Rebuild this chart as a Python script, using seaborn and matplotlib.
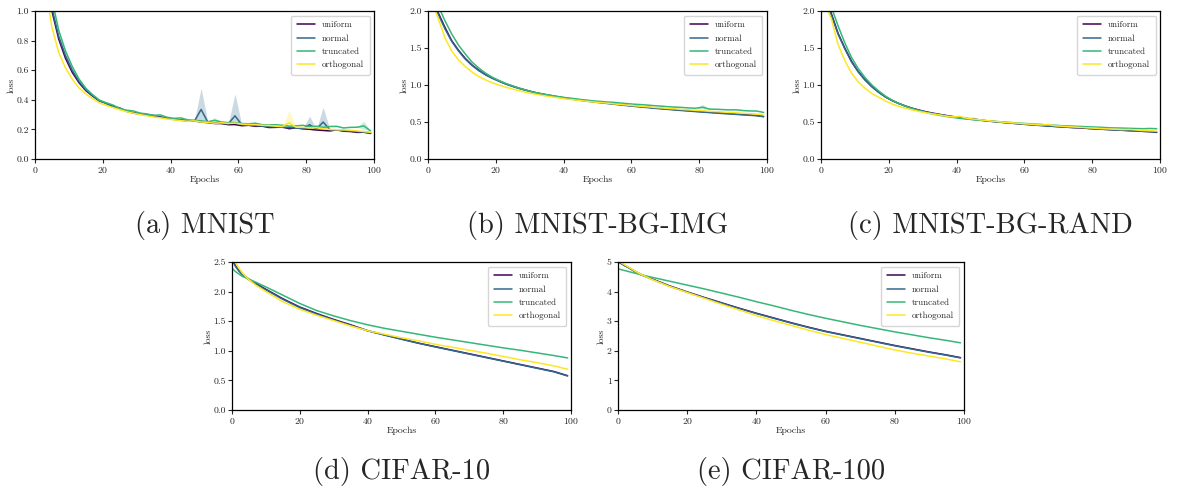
import numpy as np
import pandas as pd
import matplotlib.pyplot as plt
import seaborn as sns

INITS = ['uniform', 'normal', 'truncated', 'orthogonal']
PALETTE = dict(zip(INITS, ['#440154', '#31688e', '#35b779', '#fde725']))

# top row: epoch 0 then every odd epoch up to 99
EPOCHS_TOP = [0] + list(range(1, 100, 2))
# bottom row (smooth curves)
EPOCHS_BOT = [0, 1, 2, 3, 5, 7, 10, 15, 20, 25, 30, 35, 40, 45, 50, 55, 60, 65, 70, 75, 80, 85, 90, 95, 99]

# (a) MNIST
mnist_uniform = [2.30, 1.95, 1.32, 1.00, 0.81, 0.68, 0.585, 0.515, 0.462, 0.425, 0.392,
                 0.378, 0.355, 0.345, 0.322, 0.313, 0.308, 0.296, 0.295, 0.284, 0.276,
                 0.270, 0.262, 0.258, 0.257, 0.250, 0.246, 0.240, 0.240, 0.232, 0.233,
                 0.225, 0.228, 0.221, 0.222, 0.213, 0.214, 0.216, 0.205, 0.211, 0.204,
                 0.201, 0.196, 0.193, 0.190, 0.197, 0.188, 0.186, 0.180, 0.181, 0.173]
mnist_normal = [2.35, 2.00, 1.36, 1.02, 0.83, 0.70, 0.60, 0.525, 0.468, 0.428, 0.394,
                0.375, 0.352, 0.340, 0.325, 0.310, 0.303, 0.298, 0.290, 0.282, 0.278,
                0.268, 0.265, 0.260, 0.255, 0.335, 0.248, 0.244, 0.241, 0.238, 0.292,
                0.231, 0.229, 0.226, 0.223, 0.219, 0.218, 0.214, 0.213, 0.210, 0.206,
                0.232, 0.202, 0.250, 0.198, 0.195, 0.193, 0.188, 0.185, 0.182, 0.178]
mnist_truncated = [2.45, 2.10, 1.45, 1.08, 0.87, 0.73, 0.625, 0.54, 0.478, 0.435, 0.398,
                   0.380, 0.365, 0.342, 0.330, 0.325, 0.310, 0.305, 0.295, 0.298, 0.282,
                   0.275, 0.278, 0.265, 0.262, 0.258, 0.252, 0.262, 0.250, 0.246, 0.246,
                   0.240, 0.238, 0.242, 0.232, 0.230, 0.232, 0.228, 0.222, 0.224, 0.228,
                   0.218, 0.222, 0.214, 0.220, 0.221, 0.210, 0.214, 0.215, 0.224, 0.190]
mnist_orthogonal = [2.20, 1.85, 1.18, 0.89, 0.72, 0.615, 0.54, 0.48, 0.44, 0.408, 0.380,
                    0.362, 0.348, 0.333, 0.320, 0.310, 0.300, 0.292, 0.284, 0.278, 0.270,
                    0.265, 0.260, 0.255, 0.258, 0.250, 0.248, 0.242, 0.245, 0.240, 0.243,
                    0.236, 0.233, 0.232, 0.228, 0.226, 0.222, 0.220, 0.245, 0.215, 0.214,
                    0.210, 0.212, 0.205, 0.200, 0.198, 0.197, 0.195, 0.190, 0.186, 0.180]
mnist_bands = {'normal': {49: (0.25, 0.48), 59: (0.23, 0.44), 81: (0.20, 0.29), 85: (0.20, 0.35)},
               'orthogonal': {75: (0.21, 0.33)},
               'truncated': {53: (0.245, 0.28), 97: (0.20, 0.255)}}

# (b) MNIST-BG-IMG
bgimg_uniform = [2.45, 2.25, 1.98, 1.78, 1.60, 1.47, 1.36, 1.27, 1.20, 1.14, 1.095,
                 1.055, 1.015, 0.985, 0.955, 0.930, 0.905, 0.885, 0.868, 0.852, 0.835,
                 0.822, 0.810, 0.797, 0.785, 0.775, 0.765, 0.755, 0.745, 0.735, 0.726,
                 0.716, 0.708, 0.700, 0.690, 0.683, 0.675, 0.668, 0.660, 0.654, 0.646,
                 0.640, 0.633, 0.627, 0.620, 0.615, 0.608, 0.602, 0.596, 0.589, 0.575]
bgimg_normal = [2.42, 2.22, 1.96, 1.76, 1.59, 1.46, 1.35, 1.265, 1.195, 1.138, 1.09,
                1.05, 1.012, 0.980, 0.952, 0.927, 0.903, 0.882, 0.864, 0.848, 0.832,
                0.818, 0.806, 0.793, 0.781, 0.770, 0.760, 0.750, 0.740, 0.730, 0.720,
                0.711, 0.702, 0.694, 0.685, 0.677, 0.670, 0.662, 0.655, 0.648, 0.641,
                0.634, 0.628, 0.621, 0.615, 0.609, 0.603, 0.597, 0.591, 0.585, 0.572]
bgimg_truncated = [2.55, 2.35, 2.07, 1.87, 1.69, 1.54, 1.42, 1.31, 1.23, 1.16, 1.105,
                   1.06, 1.02, 0.988, 0.958, 0.930, 0.905, 0.887, 0.870, 0.855, 0.840,
                   0.827, 0.817, 0.805, 0.795, 0.785, 0.778, 0.770, 0.765, 0.755, 0.748,
                   0.740, 0.735, 0.728, 0.720, 0.715, 0.706, 0.702, 0.697, 0.690, 0.687,
                   0.700, 0.675, 0.673, 0.668, 0.664, 0.665, 0.655, 0.650, 0.648, 0.630]
bgimg_orthogonal = [2.35, 2.15, 1.90, 1.64, 1.46, 1.34, 1.25, 1.175, 1.115, 1.068, 1.03,
                    0.998, 0.970, 0.945, 0.922, 0.900, 0.882, 0.866, 0.850, 0.837, 0.823,
                    0.810, 0.800, 0.790, 0.780, 0.770, 0.762, 0.755, 0.745, 0.737, 0.728,
                    0.720, 0.712, 0.705, 0.697, 0.690, 0.683, 0.677, 0.670, 0.664, 0.658,
                    0.652, 0.646, 0.640, 0.635, 0.629, 0.624, 0.618, 0.612, 0.607, 0.598]
bgimg_bands = {'truncated': {57: (0.73, 0.775), 81: (0.68, 0.74)}}

# (c) MNIST-BG-RAND
bgrand_uniform = [2.45, 2.20, 1.97, 1.70, 1.50, 1.32, 1.18, 1.07, 0.98, 0.905, 0.84,
                  0.790, 0.750, 0.715, 0.685, 0.660, 0.638, 0.620, 0.603, 0.588, 0.573,
                  0.560, 0.548, 0.537, 0.527, 0.516, 0.507, 0.498, 0.490, 0.482, 0.474,
                  0.467, 0.460, 0.454, 0.447, 0.441, 0.435, 0.430, 0.424, 0.418, 0.413,
                  0.408, 0.403, 0.398, 0.393, 0.389, 0.384, 0.380, 0.375, 0.370, 0.360]
bgrand_normal = [2.42, 2.18, 1.95, 1.69, 1.49, 1.31, 1.175, 1.065, 0.975, 0.90, 0.838,
                 0.788, 0.748, 0.713, 0.683, 0.657, 0.635, 0.616, 0.600, 0.585, 0.570,
                 0.558, 0.546, 0.545, 0.525, 0.515, 0.505, 0.497, 0.489, 0.481, 0.473,
                 0.466, 0.459, 0.452, 0.446, 0.440, 0.434, 0.428, 0.423, 0.430, 0.412,
                 0.407, 0.402, 0.397, 0.392, 0.388, 0.383, 0.379, 0.374, 0.370, 0.365]
bgrand_truncated = [2.55, 2.30, 2.06, 1.80, 1.57, 1.37, 1.22, 1.10, 1.00, 0.92, 0.85,
                    0.795, 0.750, 0.712, 0.680, 0.652, 0.628, 0.607, 0.590, 0.575, 0.562,
                    0.550, 0.540, 0.532, 0.524, 0.517, 0.510, 0.503, 0.497, 0.490, 0.484,
                    0.478, 0.472, 0.467, 0.460, 0.457, 0.450, 0.447, 0.443, 0.440, 0.435,
                    0.432, 0.428, 0.422, 0.420, 0.418, 0.415, 0.412, 0.410, 0.413, 0.410]
bgrand_orthogonal = [2.35, 2.10, 1.90, 1.55, 1.33, 1.16, 1.04, 0.955, 0.885, 0.835, 0.785,
                     0.742, 0.710, 0.685, 0.662, 0.642, 0.625, 0.610, 0.595, 0.580, 0.570,
                     0.575, 0.550, 0.540, 0.530, 0.520, 0.510, 0.502, 0.494, 0.487, 0.480,
                     0.473, 0.466, 0.460, 0.465, 0.450, 0.443, 0.437, 0.432, 0.426, 0.421,
                     0.416, 0.411, 0.406, 0.402, 0.398, 0.400, 0.392, 0.386, 0.382, 0.378]
bgrand_bands = {'orthogonal': {41: (0.55, 0.60), 67: (0.44, 0.50)},
                'normal': {45: (0.52, 0.57)}}

# (d) CIFAR-10
c10_uniform = [2.56, 2.44, 2.36, 2.30, 2.21, 2.14, 2.04, 1.88, 1.74, 1.63, 1.53, 1.44, 1.34,
               1.27, 1.20, 1.13, 1.07, 1.01, 0.95, 0.89, 0.83, 0.77, 0.71, 0.65, 0.58]
c10_normal = [2.54, 2.43, 2.35, 2.29, 2.20, 2.13, 2.03, 1.87, 1.73, 1.62, 1.52, 1.43, 1.34,
              1.265, 1.195, 1.128, 1.065, 1.005, 0.945, 0.885, 0.825, 0.765, 0.705, 0.645, 0.575]
c10_truncated = [2.40, 2.34, 2.30, 2.26, 2.21, 2.16, 2.08, 1.94, 1.80, 1.68, 1.59, 1.51, 1.44,
                 1.38, 1.33, 1.28, 1.23, 1.185, 1.14, 1.095, 1.05, 1.01, 0.965, 0.92, 0.88]
c10_orthogonal = [2.58, 2.50, 2.40, 2.32, 2.20, 2.11, 2.00, 1.83, 1.70, 1.60, 1.51, 1.42, 1.34,
                  1.28, 1.22, 1.17, 1.11, 1.06, 1.01, 0.96, 0.905, 0.85, 0.80, 0.745, 0.69]

# (e) CIFAR-100
c100_uniform = [5.02, 4.95, 4.88, 4.82, 4.68, 4.56, 4.42, 4.19, 3.99, 3.80, 3.62, 3.44, 3.27,
                3.11, 2.95, 2.80, 2.66, 2.54, 2.42, 2.30, 2.18, 2.07, 1.96, 1.86, 1.77]
c100_normal = [5.01, 4.94, 4.87, 4.81, 4.67, 4.55, 4.41, 4.18, 3.98, 3.79, 3.61, 3.43, 3.26,
               3.10, 2.94, 2.79, 2.65, 2.53, 2.41, 2.29, 2.17, 2.06, 1.95, 1.85, 1.76]
c100_truncated = [4.77, 4.74, 4.71, 4.68, 4.62, 4.56, 4.48, 4.35, 4.22, 4.09, 3.95, 3.81, 3.66,
                  3.52, 3.37, 3.23, 3.10, 2.98, 2.86, 2.75, 2.64, 2.54, 2.44, 2.35, 2.27]
c100_orthogonal = [5.05, 4.97, 4.90, 4.83, 4.69, 4.56, 4.40, 4.17, 3.97, 3.77, 3.57, 3.38, 3.19,
                   3.02, 2.86, 2.70, 2.55, 2.42, 2.29, 2.16, 2.03, 1.92, 1.82, 1.72, 1.63]

panels = [
    ('(a) MNIST', EPOCHS_TOP, [mnist_uniform, mnist_normal, mnist_truncated, mnist_orthogonal],
     mnist_bands, 1.0, [0.0, 0.2, 0.4, 0.6, 0.8, 1.0], '{:.1f}'),
    ('(b) MNIST-BG-IMG', EPOCHS_TOP, [bgimg_uniform, bgimg_normal, bgimg_truncated, bgimg_orthogonal],
     bgimg_bands, 2.0, [0.0, 0.5, 1.0, 1.5, 2.0], '{:.1f}'),
    ('(c) MNIST-BG-RAND', EPOCHS_TOP, [bgrand_uniform, bgrand_normal, bgrand_truncated, bgrand_orthogonal],
     bgrand_bands, 2.0, [0.0, 0.5, 1.0, 1.5, 2.0], '{:.1f}'),
    ('(d) CIFAR-10', EPOCHS_BOT, [c10_uniform, c10_normal, c10_truncated, c10_orthogonal],
     {}, 2.5, [0.0, 0.5, 1.0, 1.5, 2.0, 2.5], '{:.1f}'),
    ('(e) CIFAR-100', EPOCHS_BOT, [c100_uniform, c100_normal, c100_truncated, c100_orthogonal],
     {}, 5.0, [0, 1, 2, 3, 4, 5], '{:d}'),
]

# axes rectangles in figure fractions
rects = [
    [0.0297, 0.680, 0.2878, 0.2978],
    [0.3633, 0.680, 0.2878, 0.2978],
    [0.6970, 0.680, 0.2878, 0.2978],
    [0.1969, 0.175, 0.2878, 0.2978],
    [0.5246, 0.175, 0.2937, 0.2978],
]
caption_y = [0.547, 0.547, 0.547, 0.052, 0.052]

sns.set_theme(style='ticks')
plt.rcParams['font.family'] = ['cmr10', 'DejaVu Serif']
plt.rcParams['axes.formatter.use_mathtext'] = True

fig = plt.figure(figsize=(11.78, 4.97), dpi=100)

for (title, epochs, series, bands, ymax, yticks, fmt), rect, cy in zip(panels, rects, caption_y):
    ax = fig.add_axes(rect)
    frames = []
    for name, vals in zip(INITS, series):
        frames.append(pd.DataFrame({'epoch': epochs, 'loss': vals, 'init': name}))
    df = pd.concat(frames, ignore_index=True)

    # shaded spread where the runs disagreed
    for name, vals in zip(INITS, series):
        if name not in bands:
            continue
        lo = list(vals)
        hi = list(vals)
        for ep, (l, h) in bands[name].items():
            i = epochs.index(ep)
            lo[i], hi[i] = l, h
        ax.fill_between(epochs, lo, hi, color=PALETTE[name], alpha=0.25, lw=0)

    sns.lineplot(data=df, x='epoch', y='loss', hue='init', hue_order=INITS,
                 palette=PALETTE, errorbar=None, lw=1.1, ax=ax)

    ax.set_xlim(0, 100)
    ax.set_ylim(0, ymax)
    ax.set_xticks([0, 20, 40, 60, 80, 100])
    ax.set_yticks(yticks)
    ax.set_yticklabels([fmt.format(t) for t in yticks])
    ax.tick_params(labelsize=7, length=3, width=0.8, pad=1.5)
    for sp in ax.spines.values():
        sp.set_visible(True)
        sp.set_color('black')
        sp.set_linewidth(0.9)
    ax.set_xlabel('Epochs', fontsize=7, labelpad=0.5)
    ax.set_ylabel('loss', fontsize=7, labelpad=0.5)
    handles, labels = ax.get_legend_handles_labels()
    ax.legend(handles, labels, loc='upper right', fontsize=6.5, frameon=True,
              borderpad=0.6, labelspacing=0.55)

    fig.text(rect[0] + rect[2] / 2, cy, title, ha='center', va='center', fontsize=20.5)

fig.savefig('out.png', dpi=100)
plt.close()
